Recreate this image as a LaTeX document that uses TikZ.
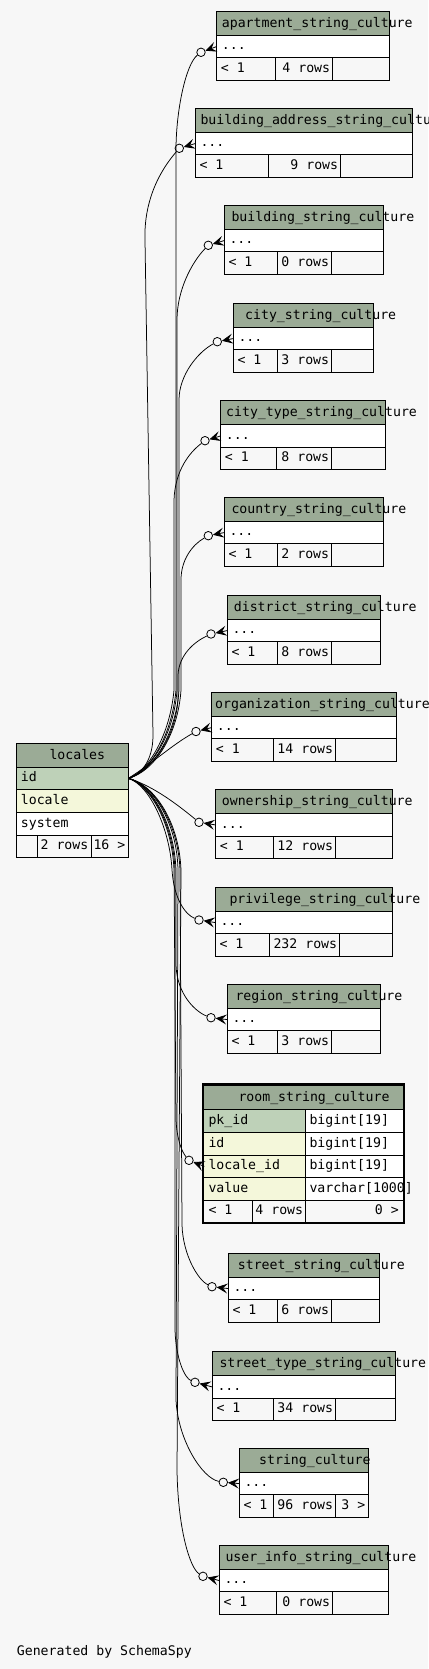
\documentclass[tikz,border=0pt]{standalone}
\usepackage{fontspec}
\newfontfamily\sspy{DejaVu Sans Mono}
\usetikzlibrary{arrows.meta}
\definecolor{bgc}{HTML}{F7F7F7}
\definecolor{hdrc}{HTML}{9BAB96}
\definecolor{pkc}{HTML}{BED1B8}
\definecolor{colc}{HTML}{F4F7DA}
\tikzset{
  tline/.style={line width=0.9pt},
  txt/.style={font=\sspy\fontsize{13.2}{15}\selectfont, inner sep=0pt, anchor=base west},
  txtr/.style={font=\sspy\fontsize{13.2}{15}\selectfont, inner sep=0pt, anchor=base east},
  odot/.style={circle, draw, fill=bgc, minimum size=8.5pt, inner sep=0pt, line width=0.8pt},
  crow/.style={-{Stealth[length=11pt,width=10pt,inset=4.5pt]}, line width=0.8pt},
  edge/.style={line width=0.75pt}
}
% id, left, right, top, title x, divider 1, divider 2, rows, title
\newcommand\ctable[9]{%
  \fill[hdrc] (#2,#4) rectangle (#3,#4+24);
  \fill[white] (#2,#4+24) rectangle (#3,#4+46.5);
  \fill[bgc] (#2,#4+46.5) rectangle (#3,#4+69);
  \draw[tline] (#2,#4) rectangle (#3,#4+69);
  \draw[tline] (#2,#4+24) -- (#3,#4+24) (#2,#4+46.5) -- (#3,#4+46.5)
     (#6,#4+46.5) -- (#6,#4+69) (#7,#4+46.5) -- (#7,#4+69);
  \node[txt] (#1-t) at (#5,#4+16) {#9};
  \node[txt] (#1-d) at (#2+5,#4+38.5) {...};
  \node[txt] (#1-f) at (#2+4,#4+61) {< 1};
  \node[txtr] (#1-r) at (#7-2,#4+61) {#8 rows};
  \coordinate (#1-e) at (#2,#4+35.25);
}
\newcommand\conn[3]{%
  \node[odot] (#1-o) at (#2,#3) {};
  \draw[crow] (#1-e) -- (#1-o);
}
\begin{document}
\begin{tikzpicture}[x=1pt,y=-1pt]
\useasboundingbox (0,0) rectangle (428,1669);
\fill[bgc] (0,0) rectangle (428,1669);

\ctable{apt}{216.7}{389.3}{11.3}{221.7}{275.3}{332.3}{4}{apartment\_string\_culture}
\ctable{bas}{195.3}{412.7}{108.3}{200.3}{268.3}{340.3}{9}{building\_address\_string\_culture}
\ctable{bst}{224.3}{383.3}{205.3}{231.3}{277.3}{331.3}{0}{building\_string\_culture}
\ctable{cst}{233.3}{373.3}{303.3}{245}{277.3}{331.3}{3}{city\_string\_culture}
\ctable{cty}{220.7}{385.3}{400.7}{226}{276.7}{331.3}{8}{city\_type\_string\_culture}
\ctable{cou}{224.3}{383.3}{497.3}{231.3}{277.7}{331.3}{2}{country\_string\_culture}
\ctable{dis}{227.3}{380.3}{595.3}{233.7}{277.3}{331.3}{8}{district\_string\_culture}
\ctable{org}{211.7}{396.3}{692.3}{215}{273.3}{335.3}{14}{organization\_string\_culture}
\ctable{own}{215.7}{392.3}{789.7}{221.7}{273.3}{335.3}{12}{ownership\_string\_culture}
\ctable{pri}{215.3}{392.3}{887.3}{229.3}{269.3}{339.3}{232}{privilege\_string\_culture}
\ctable{reg}{227.3}{380.3}{984.3}{235.3}{277.3}{331.3}{3}{region\_string\_culture}
\ctable{sst}{228.3}{379.3}{1253.3}{237.7}{277.3}{331.3}{6}{street\_string\_culture}
\ctable{stt}{212.3}{395.3}{1351.7}{219.3}{273.3}{335.3}{34}{street\_type\_string\_culture}
\ctable{sc}{239.3}{368.3}{1448.3}{259}{273.3}{335.3}{96}{string\_culture}
\node[txtr] (sc-n) at (365.5,1509.3) {3 >};
\ctable{ui}{219.3}{388.3}{1545.3}{225.3}{276.3}{332.3}{0}{user\_info\_string\_culture}

% locales
\fill[hdrc] (16.3,743.3) rectangle (128.3,767.3);
\fill[pkc] (16.3,767.3) rectangle (128.3,789.3);
\fill[colc] (16.3,789.3) rectangle (128.3,812);
\fill[white] (16.3,812) rectangle (128.3,835.3);
\fill[bgc] (16.3,835.3) rectangle (128.3,857);
\draw[tline] (16.3,743.3) rectangle (128.3,857);
\draw[tline] (16.3,767.3) -- (128.3,767.3) (16.3,789.3) -- (128.3,789.3)
  (16.3,812) -- (128.3,812) (16.3,835.3) -- (128.3,835.3)
  (37.7,835.3) -- (37.7,857) (91.3,835.3) -- (91.3,857);
\node[txt] (loc-t) at (49.3,759.3) {locales};
\node[txt] (loc-id) at (20.7,781.3) {id};
\node[txt] (loc-lo) at (20.7,804) {locale};
\node[txt] (loc-sy) at (20.7,827.3) {system};
\node[txtr] (loc-r) at (88.5,849) {2 rows};
\node[txtr] (loc-n) at (125.5,849) {16 >};
\coordinate (locid) at (128.3,778.3);

% room_string_culture
\fill[hdrc] (204.3,1084.5) rectangle (403.3,1109.3);
\fill[pkc] (204.3,1109.3) rectangle (305.3,1132.3);
\fill[colc] (204.3,1132.3) rectangle (305.3,1200.3);
\fill[white] (305.3,1109.3) rectangle (403.3,1200.3);
\fill[bgc] (204.3,1200.3) rectangle (403.3,1222.7);
\draw[tline] (204.3,1109.3) -- (403.3,1109.3) (204.3,1132.3) -- (403.3,1132.3)
  (204.3,1155) -- (403.3,1155) (204.3,1177.7) -- (403.3,1177.7)
  (204.3,1200.3) -- (403.3,1200.3) (305.3,1109.3) -- (305.3,1222.7)
  (252.3,1200.3) -- (252.3,1222.7);
\draw[line width=2.4pt] (203.2,1084.5) rectangle (403.8,1223.1);
\node[txt] (room-t) at (238.3,1101.3) {room\_string\_culture};
\node[txt] (room-a1) at (208.3,1124.3) {pk\_id};
\node[txt] (room-b1) at (309.3,1124.3) {bigint[19]};
\node[txt] (room-a2) at (208.3,1147) {id};
\node[txt] (room-b2) at (309.3,1147) {bigint[19]};
\node[txt] (room-a3) at (208.3,1169.7) {locale\_id};
\node[txt] (room-b3) at (309.3,1169.7) {bigint[19]};
\node[txt] (room-a4) at (208.3,1192.3) {value};
\node[txt] (room-b4) at (309.3,1192.3) {varchar[1000]};
\node[txt] (room-f) at (208.3,1214.7) {< 1};
\node[txtr] (room-r) at (303.3,1214.7) {4 rows};
\node[txtr] (room-n) at (399,1214.7) {0 >};
\coordinate (room-e) at (204.3,1166.4);

% circles and crow's feet
\conn{apt}{201}{52.3}
\conn{bas}{179.3}{148.3}
\conn{bst}{208.3}{245.3}
\conn{cst}{217.3}{341.7}
\conn{cty}{205}{440.7}
\conn{cou}{208.3}{535.7}
\conn{dis}{211}{634}
\conn{org}{196}{731.5}
\conn{own}{199}{822.3}
\conn{pri}{199}{920}
\conn{reg}{211}{1017.7}
\conn{room}{189}{1160.3}
\conn{sst}{212}{1286.7}
\conn{stt}{195}{1382.3}
\conn{sc}{223.3}{1482.3}
\conn{ui}{203}{1576.3}

% relationships
\draw[edge] (locid) .. controls (140,775) and (153,762) .. (153,735) -- (145,240) .. controls (144,212) and (152,180) .. (bas-o);
\draw[edge] (locid) .. controls (150,772) and (172,735) .. (176,690) -- (176,150) .. controls (176,110) and (186,64) .. (apt-o);
\draw[edge] (locid) .. controls (150,772) and (174,735) .. (177,690) -- (177,320) .. controls (177,290) and (192,262) .. (bst-o);
\draw[edge] (locid) .. controls (152,772) and (176,735) .. (179,690) -- (179,400) .. controls (179,375) and (198,352) .. (cst-o);
\draw[edge] (locid) .. controls (148,772) and (170,735) .. (174,690) -- (174,500) .. controls (175,470) and (190,452) .. (cty-o);
\draw[edge] (locid) .. controls (154,772) and (178,735) .. (181,690) -- (181,580) .. controls (181,560) and (192,545) .. (cou-o);
\draw[edge] (locid) .. controls (150,772) and (175,740) .. (178,700) -- (178,675) .. controls (179,655) and (194,642) .. (dis-o);
\draw[edge] (locid) .. controls (150,765) and (172,745) .. (org-o);
\draw[edge] (locid) .. controls (150,785) and (172,800) .. (own-o);
\draw[edge] (locid) .. controls (150,785) and (170,830) .. (172,870) .. controls (174,900) and (186,915) .. (pri-o);
\draw[edge] (locid) .. controls (150,784) and (174,820) .. (176,870) -- (176,965) .. controls (177,995) and (196,1012) .. (reg-o);
\draw[edge] (locid) .. controls (148,784) and (172,820) .. (174,870) -- (176,1120) .. controls (177,1140) and (182,1152) .. (room-o);
\draw[edge] (locid) .. controls (152,784) and (178,820) .. (180,870) -- (182,1225) .. controls (183,1255) and (198,1280) .. (sst-o);
\draw[edge] (locid) .. controls (149,784) and (173,820) .. (175,870) -- (175,1330) .. controls (176,1360) and (185,1378) .. (stt-o);
\draw[edge] (locid) .. controls (151,784) and (177,820) .. (178,870) -- (176,1400) .. controls (178,1440) and (202,1478) .. (sc-o);
\draw[edge] (locid) .. controls (153,784) and (179,820) .. (181,870) -- (177,1470) .. controls (178,1530) and (190,1568) .. (ui-o);

\node[txt] (gen) at (16.7,1655) {Generated by SchemaSpy};
\end{tikzpicture}
\end{document}
